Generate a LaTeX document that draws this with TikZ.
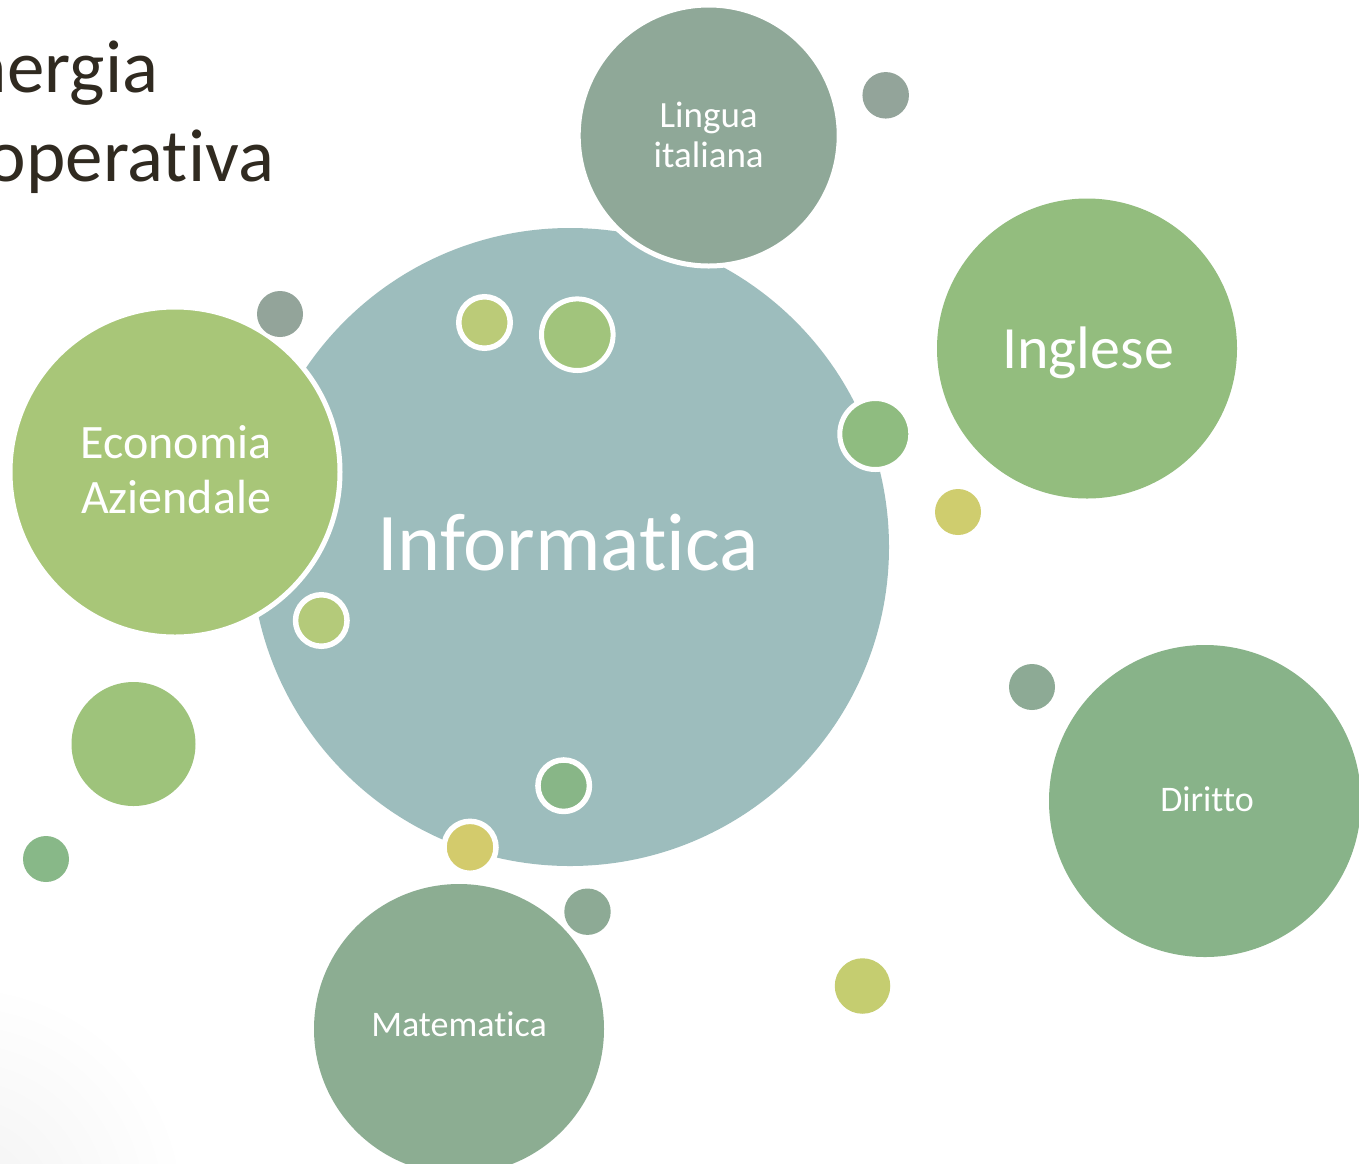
\documentclass[tikz,border=0pt]{standalone}
\usepackage{fontspec}
\setmainfont{Carlito}[Ligatures={NoCommon}]
\newcommand{\nolig}{\kern0pt }
\definecolor{cInfo}{HTML}{9DBDBD}
\definecolor{cLing}{HTML}{8FA898}
\definecolor{cIng}{HTML}{93BD7E}
\definecolor{cEco}{HTML}{A8C678}
\definecolor{cDir}{HTML}{88B389}
\definecolor{cMat}{HTML}{8CAD92}
\definecolor{cGray}{HTML}{93A49A}
\definecolor{cGrayB}{HTML}{8DAA95}
\definecolor{cLime}{HTML}{BBCB78}
\definecolor{cLimeB}{HTML}{B4CA7A}
\definecolor{cGreenA}{HTML}{A1C47C}
\definecolor{cGreenB}{HTML}{8FBC80}
\definecolor{cGreenC}{HTML}{9EC37B}
\definecolor{cGreenD}{HTML}{88B888}
\definecolor{cGreenE}{HTML}{88B687}
\definecolor{cYel}{HTML}{CFCD6E}
\definecolor{cYelB}{HTML}{D3CB6C}
\definecolor{cYelC}{HTML}{C5CD70}
\definecolor{cTitle}{HTML}{302A20}
\tikzset{
  bub/.style={circle, inner sep=0pt, outer sep=0pt},
  ring/.style={bub, draw=white, line width=5.5pt},
  lbl/.style={anchor=base, inner sep=0pt, text=white},
  ttl/.style={anchor=base west, inner sep=0pt, text=cTitle, font=\fontsize{75}{75}\selectfont}
}
\begin{document}
\begin{tikzpicture}[x=1pt,y=-1pt]
\useasboundingbox (0,0) rectangle (1359,1163);
\clip (0,0) rectangle (1359,1163);
\fill[white] (0,0) rectangle (1359,1163);
% corner fade
\shade[inner color=black!5, outer color=white] (-40,1210) circle (230);
% title
\node[ttl] (t1) at (-84,92) {Sinergia};
\node[ttl] (t2) at (-84,181) {cooperat\nolig iva};
% main bubbles
\node[bub, fill=cInfo, minimum size=638pt] (info) at (570,547) {};
\node[ring, fill=cLing, minimum size=261pt, line width=5pt] (ling) at (708.7,135.5) {};
\node[ring, fill=cEco, minimum size=330pt, line width=5pt] (eco) at (175,472) {};
\node[bub, fill=cIng, minimum size=300pt] (ing) at (1087,348.5) {};
\node[bub, fill=cDir, minimum size=312pt] (dir) at (1205,801) {};
\node[bub, fill=cMat, minimum size=290pt] (mat) at (459,1029) {};
% small bubbles
\node[bub, fill=cGray, minimum size=46pt] (s1) at (280,314) {};
\node[bub, fill=cGray, minimum size=46.5pt] (s2) at (885.7,95.3) {};
\node[ring, fill=cLime, minimum size=51.5pt] (s3) at (484.5,322.5) {};
\node[ring, fill=cGreenA, minimum size=71.6pt, line width=5pt] (s4) at (577.3,334.7) {};
\node[ring, fill=cGreenB, minimum size=71pt, line width=5pt] (s5) at (875.3,434) {};
\node[bub, fill=cYel, minimum size=46pt] (s6) at (958,512) {};
\node[ring, fill=cLimeB, minimum size=51.5pt] (s7) at (321.3,620.5) {};
\node[bub, fill=cGreenC, minimum size=124pt] (s8) at (133.5,744) {};
\node[bub, fill=cGreenD, minimum size=46pt] (s9) at (46,859) {};
\node[ring, fill=cGreenE, minimum size=51.5pt] (s10) at (563.7,785.7) {};
\node[ring, fill=cYelB, minimum size=52pt] (s11) at (470,847.3) {};
\node[bub, fill=cGrayB, minimum size=46.4pt] (s12) at (587.5,911.7) {};
\node[bub, fill=cGrayB, minimum size=46pt] (s13) at (1032,687) {};
\node[bub, fill=cYelC, minimum size=55.5pt] (s14) at (862.5,986) {};
% labels
\node[lbl, font=\fontsize{82}{82}\selectfont] (info-l) at (568,570) {Informat\nolig ica};
\node[lbl, font=\fontsize{37}{37}\selectfont] (ling-l1) at (708.7,127) {Lingua};
\node[lbl, font=\fontsize{37}{37}\selectfont] (ling-l2) at (708.7,167) {italiana};
\node[lbl, font=\fontsize{48}{48}\selectfont] (eco-l1) at (176,458) {Economia};
\node[lbl, font=\fontsize{48}{48}\selectfont] (eco-l2) at (176,513) {Aziendale};
\node[lbl, font=\fontsize{60}{60}\selectfont] (ing-l) at (1088,368) {Inglese};
\node[lbl, font=\fontsize{36}{36}\selectfont] (dir-l) at (1207,811) {Diritto};
\node[lbl, font=\fontsize{36}{36}\selectfont] (mat-l) at (459,1036) {Matemat\nolig ica};
\end{tikzpicture}
\end{document}
